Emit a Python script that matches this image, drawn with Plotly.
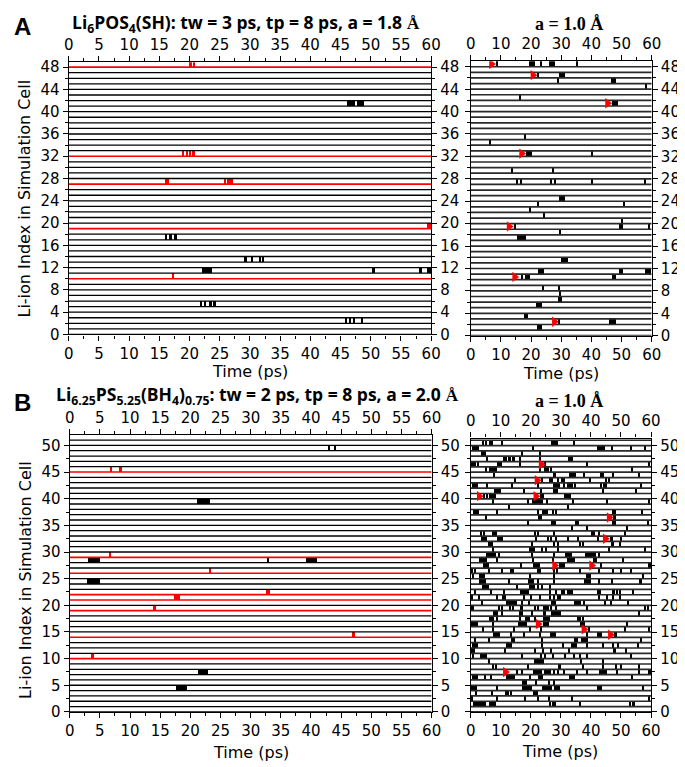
import plotly.graph_objects as go

# ---------------- data ----------------
TIME_MAX = 60

# Panel A (left): Li6POS4(SH), a = 1.8 A
A_ion_count = 49
A_red_ions = [48, 32, 27, 19, 10]
A_black_events = [
    (41, 46.0, 47.3), (41, 47.7, 48.9),
    (17, 15.9, 16.2), (17, 16.7, 17.0), (17, 17.4, 17.8),
    (13, 29.1, 29.4), (13, 30.2, 30.5), (13, 31.6, 31.8), (13, 32.0, 32.2),
    (11, 22.0, 23.6), (11, 50.3, 50.6), (11, 58.1, 58.4), (11, 59.3, 59.55), (11, 59.7, 60.0),
    (5, 21.8, 22.1), (5, 22.4, 22.7), (5, 23.2, 23.7), (5, 23.85, 24.3),
    (2, 45.8, 46.1), (2, 46.4, 46.7), (2, 47.0, 47.4), (2, 48.4, 48.6),
]
A_red_events = [
    (48, 19.9, 20.3), (48, 20.5, 20.9),
    (32, 18.8, 19.1), (32, 19.4, 19.7), (32, 19.9, 20.2), (32, 20.4, 20.8),
    (27, 15.9, 16.5), (27, 25.7, 26.0), (27, 26.3, 26.6), (27, 26.8, 27.1),
    (19, 59.3, 59.6), (19, 59.75, 60.0),
    (10, 17.1, 17.4),
]

# Panel A (right): a = 1.0 A
A1_events = {
    48: [(8.3, 8.9), (19.2, 21.2), (23.0, 23.5), (25.8, 28.0), (34.7, 35.4)],
    46: [(22.1, 22.6), (29.3, 31.2)],
    45: [(28.6, 29.2), (46.5, 48.0)],
    44: [(57.8, 58.5)],
    42: [(16.1, 16.6)],
    41: [(46.7, 48.9)],
    35: [(17.8, 18.3)],
    34: [(6.1, 6.7)],
    32: [(18.3, 20.2), (40.1, 40.6)],
    29: [(13.4, 14.0), (27.0, 27.5)],
    27: [(15.2, 15.6), (16.4, 17.0), (26.2, 26.7), (27.8, 28.2), (40.1, 40.6), (57.4, 57.9)],
    24: [(29.3, 31.2)],
    23: [(22.1, 22.6), (50.7, 51.2)],
    22: [(19.4, 19.9)],
    21: [(24.2, 24.7)],
    20: [(49.9, 50.4)],
    19: [(14.3, 14.8), (49.0, 50.4), (59.0, 59.5)],
    18: [(29.4, 29.9)],
    17: [(15.4, 18.2)],
    13: [(29.8, 32.0)],
    11: [(22.3, 24.3), (49.1, 50.5), (57.8, 59.8)],
    10: [(16.9, 17.3), (17.8, 19.5), (46.6, 48.0)],
    8: [(23.7, 24.2), (29.1, 29.6)],
    7: [(29.4, 29.9)],
    6: [(28.8, 30.2)],
    5: [(21.6, 23.5)],
    3: [(17.5, 19.0)],
    2: [(29.1, 29.6), (45.9, 48.0)],
    1: [(22.0, 23.5)],
}
A1_arrows = [(48, 5.5, 8.2), (46, 19.4, 21.8), (41, 44.0, 46.7), (32, 15.4, 18.3),
             (19, 11.5, 13.9), (10, 13.4, 15.7), (2, 26.4, 29.0)]

# Panel B (left): Li6.25PS5.25(BH4)0.75, a = 2.0 A
B_ion_count = 52
B_red_ions = [45, 29, 26, 22, 21, 19, 14, 10]
B_black_events = [
    (49, 42.8, 43.1), (49, 43.7, 44.1),
    (39, 21.0, 23.2),
    (28, 3.0, 4.9), (28, 32.6, 33.0), (28, 39.1, 41.0),
    (24, 2.8, 5.0),
    (7, 21.2, 22.9),
    (4, 17.5, 19.4),
]
B_red_events = [
    (45, 6.6, 7.0), (45, 8.2, 8.6), (29, 6.4, 6.8), (26, 23.0, 23.4),
    (22, 32.5, 33.2), (21, 17.2, 18.2), (19, 13.8, 14.2), (14, 46.7, 47.2), (10, 3.6, 3.9),
]

# Panel B (right): a = 1.0 A
B1_events = {
    50: [(3.9, 4.3), (4.8, 5.2), (6.0, 7.2), (10.0, 10.4), (26.5, 29.1), (34.1, 34.5)],
    49: [(0.4, 2.5), (20.6, 21.0), (42.0, 44.7), (46.6, 47.0), (53.2, 53.6), (57.8, 58.2)],
    48: [(3.2, 5.0), (16.8, 17.2), (22.7, 23.1)],
    47: [(5.3, 5.7), (10.8, 12.0), (12.4, 13.2), (13.5, 14.8), (16.2, 16.6), (22.7, 23.1), (32.4, 34.1)],
    46: [(0.1, 1.7), (2.1, 2.5), (8.5, 10.4), (15.9, 16.7), (24.6, 25.0), (38.3, 38.7), (59.1, 59.5)],
    45: [(4.8, 5.2), (6.1, 8.8), (22.7, 23.1), (24.3, 25.9), (26.3, 26.7), (53.5, 53.9)],
    44: [(7.5, 7.9), (27.3, 28.4), (32.7, 34.9), (37.4, 37.8), (43.2, 43.6), (43.9, 44.3), (47.2, 47.6), (55.9, 56.3)],
    43: [(14.4, 14.8), (23.3, 23.7), (25.9, 27.3), (28.7, 29.1), (30.1, 30.5), (30.7, 31.1), (39.6, 40.0), (44.8, 45.2), (45.6, 46.0)],
    42: [(0.3, 2.3), (5.3, 5.7), (13.5, 13.9), (22.0, 22.4), (27.3, 29.5), (30.7, 31.1), (32.0, 32.4), (32.8, 33.2),
         (33.6, 34.0), (34.4, 34.9), (43.1, 43.5), (44.1, 45.2), (56.4, 56.8)],
    41: [(7.7, 9.9), (17.6, 18.0), (23.1, 23.5), (27.3, 29.1), (43.9, 44.3), (54.6, 55.0)],
    40: [(4.3, 4.7), (5.1, 5.5), (6.1, 8.3), (23.1, 23.5), (23.8, 24.2), (31.1, 33.3)],
    39: [(7.0, 7.4), (18.7, 19.1), (20.4, 24.0), (25.2, 25.6), (33.9, 34.3), (45.0, 45.4), (59.1, 59.5)],
    38: [(12.4, 12.8), (32.0, 32.4)],
    37: [(0.7, 2.6), (8.4, 8.8), (22.0, 22.4), (23.7, 25.7), (27.1, 27.5), (28.2, 28.6), (46.8, 48.3), (56.8, 57.2)],
    36: [(4.8, 5.2), (22.5, 22.9), (23.1, 23.5), (47.2, 48.3)],
    35: [(18.7, 19.1), (26.7, 28.4), (34.7, 35.1), (35.5, 35.9), (46.8, 48.3), (58.6, 59.0)],
    34: [(33.6, 34.0), (38.5, 38.9), (51.9, 52.3)],
    33: [(3.2, 3.6), (4.3, 4.7), (7.0, 8.5), (21.1, 21.5), (22.2, 22.6), (27.6, 28.0), (39.8, 41.4), (42.6, 43.0), (51.0, 51.4)],
    32: [(3.4, 5.2), (8.8, 10.7), (21.6, 22.0), (25.5, 25.9), (26.5, 26.9), (28.2, 28.6), (32.0, 32.4), (35.5, 35.9),
         (42.0, 42.4), (46.1, 47.3), (49.9, 50.3)],
    31: [(5.5, 7.4), (20.2, 20.6), (27.6, 28.0), (28.7, 29.1), (36.1, 36.5), (37.2, 37.6), (46.5, 47.6), (49.4, 49.8)],
    30: [(7.0, 7.4), (19.3, 21.3), (23.3, 23.7), (24.9, 25.3), (28.7, 29.1), (45.6, 46.0), (57.8, 58.2)],
    29: [(5.0, 8.3), (9.1, 9.5), (20.2, 20.6), (27.6, 28.0), (31.4, 33.6), (37.8, 41.7), (42.6, 43.0)],
    28: [(2.8, 5.2), (8.6, 9.0), (20.6, 21.0), (27.1, 27.5), (32.0, 34.6), (40.7, 42.0), (50.5, 50.9)],
    27: [(4.1, 5.9), (16.5, 16.9), (20.8, 22.9), (29.3, 29.7), (30.1, 30.5), (30.8, 31.2), (43.2, 43.6), (58.8, 60.0)],
    26: [(0.2, 0.6), (1.0, 1.4), (5.9, 6.3), (10.0, 10.4), (13.0, 13.4), (13.7, 14.1), (22.0, 22.4), (22.9, 23.3),
         (27.6, 28.0), (28.3, 28.7), (36.1, 36.5), (42.3, 42.7), (47.2, 47.6), (49.9, 50.3), (53.2, 53.6)],
    25: [(0.5, 0.9), (2.8, 4.8), (19.5, 19.9), (27.6, 28.0), (38.2, 39.8), (57.0, 57.4)],
    24: [(2.8, 5.0), (12.4, 12.8), (19.1, 21.1), (22.2, 22.6), (27.6, 28.0), (37.6, 40.0), (42.3, 42.7), (46.6, 47.0), (55.9, 57.0)],
    23: [(3.7, 6.1), (15.1, 15.5), (19.3, 21.3), (22.2, 22.6), (23.6, 24.0), (26.0, 26.4)],
    22: [(1.0, 1.4), (6.4, 6.8), (10.8, 11.2), (16.4, 19.3), (26.0, 26.4), (28.2, 28.6), (30.0, 30.4), (30.7, 31.1),
         (32.0, 33.8), (42.0, 43.3), (46.8, 47.9), (48.4, 48.8), (49.4, 49.8), (53.7, 54.1)],
    21: [(0.2, 0.6), (2.6, 3.0), (8.6, 9.0), (10.2, 11.7), (17.6, 18.0), (19.8, 20.2), (22.7, 23.1), (26.0, 26.4),
         (27.6, 28.0), (28.7, 29.1), (29.3, 29.7), (42.3, 42.7), (45.0, 45.4), (47.2, 47.6), (49.4, 49.8)],
    20: [(3.5, 3.9), (11.5, 15.3), (16.8, 17.2), (19.1, 19.5), (26.7, 28.4), (34.3, 34.7), (35.0, 35.4), (35.6, 36.0),
         (36.2, 36.6), (37.4, 37.8), (44.5, 44.9), (46.4, 46.8), (52.1, 52.5)],
    19: [(0.1, 0.9), (9.1, 9.5), (10.2, 10.6), (12.8, 13.2), (13.9, 14.3), (16.4, 17.2), (21.1, 21.5), (22.2, 22.6),
         (24.0, 25.9), (26.6, 27.0), (28.2, 28.6), (38.5, 38.9), (57.8, 58.2), (58.8, 59.2)],
    18: [(7.2, 9.1), (10.2, 10.6), (16.2, 16.6), (16.8, 17.2), (20.0, 20.4), (23.8, 25.1), (26.7, 29.8), (55.9, 56.3)],
    17: [(6.1, 7.7), (8.6, 9.0), (16.2, 16.6), (18.0, 19.7), (21.3, 21.7), (24.0, 26.2), (35.5, 35.9), (36.2, 36.6), (37.2, 37.6)],
    16: [(0.1, 2.3), (7.0, 7.4), (15.7, 18.6), (23.8, 25.9), (36.3, 36.7), (37.1, 37.8), (51.8, 52.2)],
    15: [(3.9, 4.3), (7.3, 7.7), (14.0, 14.4), (19.5, 19.9), (23.1, 23.5), (39.0, 39.6), (51.0, 51.4), (59.1, 59.5)],
    14: [(7.4, 9.6), (13.0, 13.4), (17.6, 18.0), (22.7, 23.1), (26.2, 28.4), (38.5, 38.9), (42.0, 43.6), (47.7, 48.7)],
    13: [(1.3, 1.7), (5.9, 6.3), (13.2, 14.6), (23.3, 23.7), (34.3, 35.7), (36.5, 39.0), (56.4, 56.8)],
    12: [(0.4, 2.3), (11.5, 13.7), (23.3, 23.7), (30.3, 30.7), (33.3, 35.2), (38.5, 38.9), (43.7, 44.1), (47.2, 47.6),
         (48.8, 49.2), (55.3, 55.7)],
    11: [(0.2, 0.6), (0.9, 1.3), (11.3, 11.7), (21.3, 21.7), (23.8, 24.2), (26.5, 26.9), (32.5, 32.9), (47.2, 48.3), (51.5, 51.9)],
    10: [(0.5, 0.9), (3.0, 5.2), (16.8, 17.2), (23.1, 23.5), (24.4, 24.8), (27.1, 27.5), (31.2, 31.6), (34.1, 34.5),
         (36.1, 36.5), (38.5, 38.9), (53.2, 53.6)],
    9: [(5.7, 6.1), (21.1, 24.3), (36.3, 36.7), (43.7, 44.1)],
    8: [(7.0, 7.4), (8.0, 8.4), (18.9, 19.3), (28.9, 30.0), (37.2, 37.6), (43.9, 44.3), (48.0, 48.4), (49.9, 50.3), (55.6, 56.0)],
    7: [(15.1, 15.5), (16.8, 17.2), (20.5, 23.5), (24.3, 26.5), (27.6, 28.0), (28.7, 29.1), (30.7, 31.1), (35.2, 35.6),
        (38.5, 38.9), (42.8, 43.2), (43.5, 43.9), (44.2, 44.6), (44.9, 45.3), (48.3, 48.7), (55.9, 56.3), (59.0, 60.0)],
    6: [(0.4, 2.3), (4.6, 5.0), (6.4, 6.8), (11.7, 14.6), (19.5, 19.9), (22.2, 24.0), (32.7, 34.6), (53.5, 53.9)],
    5: [(17.0, 18.6), (21.6, 22.0), (25.7, 26.1), (27.6, 28.0)],
    4: [(0.1, 2.0), (8.6, 9.0), (17.0, 20.4), (23.5, 27.0), (27.5, 29.5), (42.0, 43.6), (57.2, 57.6)],
    3: [(1.5, 1.9), (6.8, 7.2), (11.5, 11.9), (12.3, 12.7), (13.1, 13.5), (20.8, 22.4)],
    2: [(0.0, 0.4), (8.6, 9.0), (17.8, 18.2), (22.2, 22.6), (25.8, 26.2), (33.6, 34.0), (59.1, 59.5)],
    1: [(0.7, 5.0), (5.9, 8.3), (26.0, 26.4), (27.1, 28.4), (36.1, 36.5), (52.8, 53.2), (53.6, 54.0), (54.1, 54.5)],
}
B1_arrows = [(46, 22.2, 24.6), (43, 20.8, 23.3), (40, 1.5, 4.1), (40, 20.4, 22.9), (36, 44.9, 47.2),
             (32, 43.4, 46.1), (27, 26.7, 29.1), (27, 39.0, 41.4), (16, 21.1, 23.7), (15, 36.3, 39.0),
             (14, 45.2, 47.7), (7, 10.2, 12.8)]

# Tick settings
A_left_xticks = dict(dtick=5, minor=2.5)
A_right_xticks = dict(dtick=10, minor=5)
A_yticks = dict(dtick=4, minor=2)
B_yticks = dict(dtick=5, minor=2.5)

TITLE_A = "Li<sub>6</sub>POS<sub>4</sub>(SH): tw = 3 ps, tp = 8 ps, a = 1.8 "
TITLE_B = "Li<sub>6.25</sub>PS<sub>5.25</sub>(BH<sub>4</sub>)<sub>0.75</sub>: tw = 2 ps, tp = 8 ps, a = 2.0 "
TITLE_R = "a = 1.0 Å"

# ---------------- drawing ----------------
W, H = 685, 767
TICKFONT = dict(family="DejaVu Sans", size=15, color="black")
fig = go.Figure()


def px_x(p):
    return p / W


def px_y(p):
    return 1 - p / H


def ref(kind, n):
    return kind if n == 1 else f"{kind}{n}"


def axname(kind, n):
    return f"{kind}axis" if n == 1 else f"{kind}axis{n}"


def events_from_dict(d):
    out = []
    for ion, segs in d.items():
        for t0, t1 in segs:
            out.append((ion, t0, t1))
    return out


def add_panel(n, xdom, ydom, yrange, xt, yt, ion_count, red_ions, black_ev, red_ev, arrows,
              line_col, line_w, left_labels):
    xa, ya = 2 * n - 1, 2 * n - 1
    xb, yb = 2 * n, 2 * n
    xr, yr = ref("x", xa), ref("y", ya)
    # baselines
    lx, ly, rx, ry = [], [], [], []
    for i in range(ion_count):
        if i in red_ions:
            rx += [0, TIME_MAX, None]
            ry += [i, i, None]
        else:
            lx += [0, TIME_MAX, None]
            ly += [i, i, None]
    # event bars
    for evs, col in ((black_ev, "black"), (red_ev, "red")):
        if evs:
            fig.add_trace(go.Bar(
                orientation="h", base=[e[1] for e in evs], x=[e[2] - e[1] for e in evs],
                y=[e[0] + 0.5 for e in evs], width=1.0, marker=dict(color=col, line=dict(width=0)),
                xaxis=xr, yaxis=yr, showlegend=False, hoverinfo="skip"))
    fig.add_trace(go.Scatter(x=lx, y=ly, mode="lines", line=dict(color=line_col, width=line_w),
                             xaxis=xr, yaxis=yr, showlegend=False, hoverinfo="skip"))
    if rx:
        fig.add_trace(go.Scatter(x=rx, y=ry, mode="lines", line=dict(color="red", width=1.6),
                                 xaxis=xr, yaxis=yr, showlegend=False, hoverinfo="skip"))
    if arrows:
        fig.add_trace(go.Scatter(
            x=[(a[1] + a[2]) / 2 for a in arrows], y=[a[0] + 0.5 for a in arrows], mode="markers",
            marker=dict(symbol="triangle-right", size=9, color="red", line=dict(width=0)),
            xaxis=xr, yaxis=yr, showlegend=False, hoverinfo="skip"))
    # twin axes carrier
    fig.add_trace(go.Scatter(x=[None], y=[None], xaxis=ref("x", xb), yaxis=ref("y", yb),
                             showlegend=False, hoverinfo="skip"))

    common = dict(showline=True, linecolor="black", linewidth=1.3, ticks="outside", ticklen=5,
                  tickwidth=1.3, tickcolor="black", showgrid=False, zeroline=False,
                  tickfont=TICKFONT, fixedrange=True)
    xcommon = dict(common, range=[0, TIME_MAX], tick0=0, dtick=xt["dtick"],
                   minor=dict(ticks="outside", ticklen=3, tickwidth=1.1, tickcolor="black",
                              dtick=xt["minor"], tick0=0, showgrid=False))
    ycommon = dict(common, range=yrange, tick0=0, dtick=yt["dtick"],
                   minor=dict(ticks="outside", ticklen=3, tickwidth=1.1, tickcolor="black",
                              dtick=yt["minor"], tick0=0, showgrid=False))
    fig.update_layout(**{
        axname("x", xa): dict(xcommon, domain=xdom, anchor=yr, side="bottom"),
        axname("y", ya): dict(ycommon, domain=ydom, anchor=xr, side="left",
                              showticklabels=left_labels),
        axname("x", xb): dict(xcommon, overlaying=xr, anchor=yr, side="top"),
        axname("y", yb): dict(ycommon, overlaying=yr, anchor=xr, side="right"),
    })


add_panel(1, [px_x(57), px_x(427.5)], [px_y(328), px_y(51)], [0, 48.9],
          A_left_xticks, A_yticks, A_ion_count, A_red_ions, A_black_events, A_red_events, [],
          "black", 1.3, True)
add_panel(2, [px_x(468), px_x(653)], [px_y(329.3), px_y(50)], [0, 49],
          A_right_xticks, A_yticks, A_ion_count, [], events_from_dict(A1_events), [], A1_arrows,
          "#2a2a2a", 1.7, False)
add_panel(3, [px_x(58), px_x(428)], [px_y(712), px_y(430)], [0, 52],
          A_left_xticks, B_yticks, B_ion_count, B_red_ions, B_black_events, B_red_events, [],
          "black", 1.3, True)
add_panel(4, [px_x(468), px_x(652.3)], [px_y(712), px_y(434)], [0, 51.3],
          A_right_xticks, B_yticks, B_ion_count, [], events_from_dict(B1_events), [], B1_arrows,
          "#2a2a2a", 1.7, False)

SERIF_A = "<span style='font-family:Liberation Serif'>Å</span>"
ann = [
    dict(text="<b>A</b>", x=px_x(10), y=px_y(15), font=dict(family="Liberation Sans", size=24)),
    dict(text="<b>B</b>", x=px_x(10), y=px_y(397), font=dict(family="Liberation Sans", size=24)),
    dict(text="<b>" + TITLE_A + SERIF_A + "</b>", x=px_x(238), y=px_y(12),
         font=dict(family="Open Sans", size=17.5)),
    dict(text="<b>" + TITLE_B + SERIF_A + "</b>", x=px_x(249), y=px_y(390),
         font=dict(family="Open Sans", size=17.5)),
    dict(text="<b>" + TITLE_R + "</b>", x=px_x(568), y=px_y(12),
         font=dict(family="Liberation Serif", size=18)),
    dict(text="<b>" + TITLE_R + "</b>", x=px_x(568), y=px_y(396),
         font=dict(family="Liberation Serif", size=18)),
    dict(text="Time (ps)", x=px_x(242), y=px_y(366), font=dict(family="DejaVu Sans", size=16)),
    dict(text="Time (ps)", x=px_x(560), y=px_y(368), font=dict(family="DejaVu Sans", size=16)),
    dict(text="Time (ps)", x=px_x(243), y=px_y(753), font=dict(family="DejaVu Sans", size=16)),
    dict(text="Time (ps)", x=px_x(559), y=px_y(752), font=dict(family="DejaVu Sans", size=16)),
    dict(text="Li-ion Index in Simulation Cell", x=px_x(12), y=px_y(190), textangle=-90,
         font=dict(family="DejaVu Sans", size=16)),
    dict(text="Li-ion Index in Simulation Cell", x=px_x(12), y=px_y(578), textangle=-90,
         font=dict(family="DejaVu Sans", size=16)),
]
for a in ann:
    a.update(xref="paper", yref="paper", showarrow=False, xanchor="center", yanchor="middle")
    a["font"]["color"] = "black"

fig.update_layout(width=W, height=H, margin=dict(l=0, r=0, t=0, b=0), autosize=False,
                  paper_bgcolor="white", plot_bgcolor="white", barmode="overlay",
                  bargap=0, showlegend=False, annotations=ann)

fig.write_html("out.html")
